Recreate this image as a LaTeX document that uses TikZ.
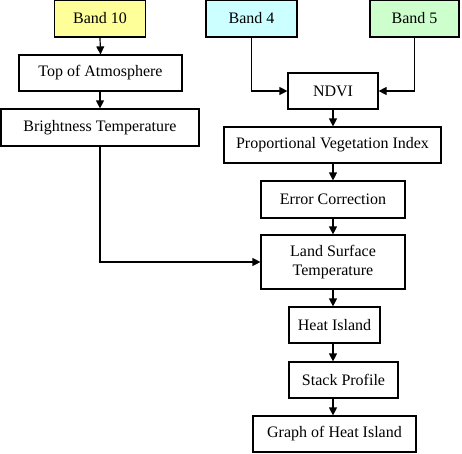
\documentclass[tikz,border=0pt]{standalone}
\usepackage{fontspec}
\setmainfont{Liberation Serif}
\usetikzlibrary{arrows.meta}
\definecolor{yel}{HTML}{FFFF99}
\definecolor{cya}{HTML}{CCFFFF}
\definecolor{grn}{HTML}{CCFFCC}
\begin{document}
\begin{tikzpicture}[x=1pt,y=-1pt,
  box/.style={draw=black,line width=1.2pt,fill=white,inner sep=0pt,align=center,
    font=\fontsize{16}{19}\selectfont},
  conn/.style={line width=1.2pt,-{Triangle[length=8pt,width=8pt]}}]
\useasboundingbox (0,0) rectangle (462,453);
\node[box,fill=yel,minimum width=91pt,minimum height=37pt] (b10) at (100,18.5) {Band 10};
\node[box,minimum width=163pt,minimum height=36pt] (toa) at (100.5,73) {Top of Atmosphere};
\node[box,minimum width=198pt,minimum height=37pt] (bt) at (100,127.5) {Brightness Temperature};
\node[box,fill=cya,minimum width=91pt,minimum height=37pt] (b4) at (251.5,18.5) {Band 4};
\node[box,fill=grn,minimum width=89pt,minimum height=37pt] (b5) at (414.5,18.5) {Band 5};
\node[box,minimum width=90pt,minimum height=36pt] (ndvi) at (333,91) {NDVI};
\node[box,minimum width=217pt,minimum height=36pt] (pvi) at (332.5,145) {Proportional Vegetation Index};
\node[box,minimum width=144pt,minimum height=37pt] (ec) at (333,199.5) {Error Correction};
\node[box,minimum width=144pt,minimum height=54pt] (lst) at (333,262) {Land Surface\\Temperature};
\node[box,minimum width=91pt,minimum height=36pt] (hi) at (334.5,325) {Heat Island};
\node[box,minimum width=109pt,minimum height=36pt] (sp) at (343.5,380) {Stack Profile};
\node[box,minimum width=163pt,minimum height=36pt] (gh) at (334.5,434) {Graph of Heat Island};
\coordinate (col) at (333,0);
\draw[conn] (b10.south) -- (toa.north);
\draw[conn] (bt.north |- toa.south) -- (bt.north);
\draw[conn] (b4.south) |- (ndvi.west);
\draw[conn] (b5.south) |- (ndvi.east);
\draw[conn] (col |- ndvi.south) -- (col |- pvi.north);
\draw[conn] (col |- pvi.south) -- (col |- ec.north);
\draw[conn] (col |- ec.south) -- (col |- lst.north);
\draw[conn] (bt.south) |- (lst.west);
\draw[conn] (col |- lst.south) -- (col |- hi.north);
\draw[conn] (col |- hi.south) -- (col |- sp.north);
\draw[conn] (col |- sp.south) -- (col |- gh.north);
\end{tikzpicture}
\end{document}
